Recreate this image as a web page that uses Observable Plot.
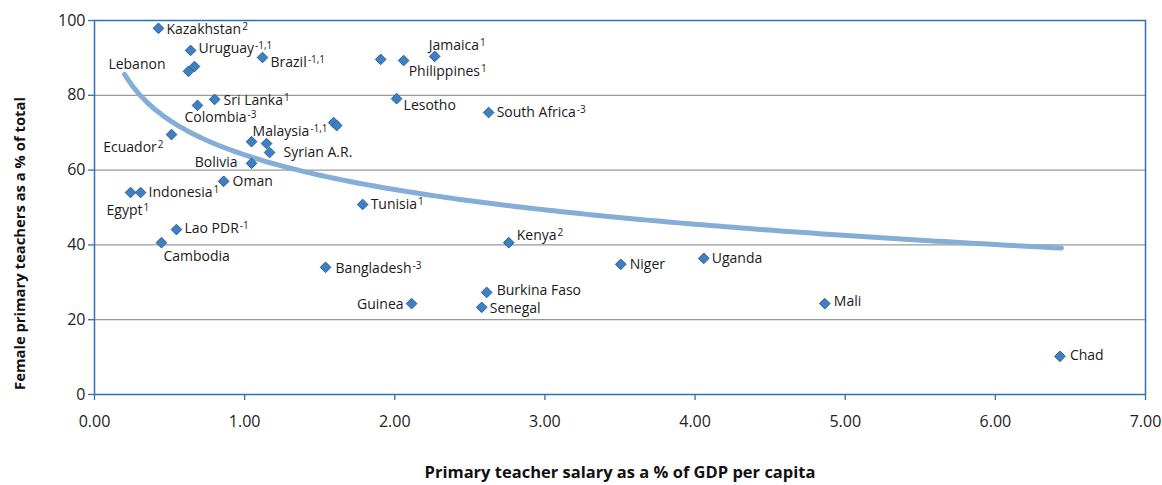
<!DOCTYPE html>
<html><head><meta charset="utf-8">
<script src="https://cdn.jsdelivr.net/npm/d3@7"></script>
<script src="https://cdn.jsdelivr.net/npm/@observablehq/plot@0.6"></script>
<style>body{margin:0;background:#fff}</style>
</head><body><div id="chart"></div>
<script>
// ---- data ----
const countries = ["Kazakhstan","Uruguay","Lebanon","","Brazil","Jamaica","","Philippines","Sri Lanka","Colombia",
  "Lesotho","South Africa","","","Malaysia","","Syrian A.R.","Bolivia","Ecuador","Oman",
  "Egypt","Indonesia","Lao PDR","Cambodia","Tunisia","Kenya","Bangladesh","Niger","Uganda","Burkina Faso",
  "Guinea","Senegal","Mali","Chad"];
const superscripts = ["2","-1,1","","","-1,1","1","","1","1","-3",
  "","-3","","","-1,1","","","","2","",
  "1","1","-1","","1","2","-3","","","",
  "","","",""];
const salary = [0.426,0.640,0.626,0.666,1.119,2.266,1.906,2.059,0.800,0.686,
  2.012,2.625,1.593,1.613,1.046,1.146,1.166,1.046,0.513,0.860,
  0.240,0.307,0.546,0.446,1.786,2.759,1.539,3.505,4.058,2.612,
  2.112,2.579,4.864,6.430];
const femaleShare = [97.9,92.0,86.4,87.7,90.1,90.4,89.6,89.3,78.9,77.3,
  79.1,75.4,72.7,71.9,67.6,67.1,64.7,61.8,69.5,57.0,
  54.0,54.0,44.1,40.6,50.8,40.6,34.0,34.8,36.4,27.3,
  24.3,23.3,24.3,10.2];
const xTicks = [0,1,2,3,4,5,6,7];
const yTicks = [0,20,40,60,80,100];
const gridLines = [20,40,60,80];
const trendExtent = [0.20, 6.44];   // span of the trendline as drawn in the source
const xTitle = "Primary teacher salary as a % of GDP per capita";
const yTitle = "Female primary teachers as a % of total";

// ---- label layout (offsets in px, anchor) ----
const labelLayout = {
  "Kazakhstan":[8,1,"start"], "Uruguay":[8,-2,"start"], "Lebanon":[-23,-7,"end"],
  "Brazil":[8,5,"start"], "Jamaica":[-6,-11,"start"], "Philippines":[5,11,"start"],
  "Sri Lanka":[9,1,"start"], "Colombia":[-13,12,"start"], "Lesotho":[7,7,"start"],
  "South Africa":[8,0,"start"], "Malaysia":[1,-10,"start"], "Syrian A.R.":[14,0,"start"],
  "Bolivia":[-14,-1,"end"], "Ecuador":[-8,13,"end"], "Oman":[9,0,"start"],
  "Egypt":[-24,18,"start"], "Indonesia":[8,0,"start"], "Lao PDR":[8,-1,"start"],
  "Cambodia":[2,14,"start"], "Tunisia":[8,0,"start"], "Kenya":[8,-7,"start"],
  "Bangladesh":[10,1,"start"], "Niger":[9,0,"start"], "Uganda":[8,0,"start"],
  "Burkina Faso":[10,-2,"start"], "Guinea":[-8,1,"end"], "Senegal":[8,1,"start"],
  "Mali":[9,-2,"start"], "Chad":[10,-1,"start"]
};

const data = countries.map((c,i)=>({country:c, sup:superscripts[i], x:salary[i], y:femaleShare[i]}));

// logarithmic least-squares trendline fitted to the data
const lx = data.map(d=>Math.log(d.x));
const mx = d3.mean(lx), my = d3.mean(data, d=>d.y);
const b = d3.sum(data, (d,i)=>(lx[i]-mx)*(d.y-my)) / d3.sum(lx, v=>(v-mx)**2);
const a = my - b*mx;
const [t0, t1] = trendExtent;
const trend = d3.range(121).map(i=>{const x = t0 + (t1-t0)*i/120; return {x, y:a+b*Math.log(x)};});

const FONT = "'Open Sans', 'Noto Sans', sans-serif";
const axisBlue = "#2e72b6";

const labelMarks = data.filter(d=>d.country).map(d=>{
  const [dx,dy,anchor] = labelLayout[d.country];
  return Plot.text([d], {x:"x", y:"y", text:"country", dx, dy, textAnchor:anchor,
    fontSize:14, fill:"#1a1a1a"});
});

const chart = Plot.plot({
  width:1162, height:485,
  marginLeft:94, marginRight:17, marginTop:20, marginBottom:91,
  style:{fontFamily:FONT, fontSize:"16px", color:"#222", background:"#fff"},
  x:{domain:[0,7], ticks:xTicks, tickFormat:d=>d.toFixed(2), tickSize:6, tickPadding:15, label:null},
  y:{domain:[0,100], ticks:yTicks, tickSize:6, tickPadding:3, label:null},
  marks:[
    Plot.ruleY(gridLines, {stroke:"#999", strokeWidth:1.3}),
    Plot.line(trend, {x:"x", y:"y", stroke:"#84aed6", strokeWidth:5}),
    Plot.dot(data, {x:"x", y:"y", symbol:"diamond2", r:4.8, fill:"#3f80c2", stroke:"#2a5d96", strokeWidth:1}),
    ...labelMarks,
    Plot.frame({stroke:axisBlue, strokeWidth:1.5}),
    Plot.text([xTitle], {text:d=>d, frameAnchor:"bottom", textAnchor:"middle", lineAnchor:"middle", dy:78, fontWeight:"bold", fontSize:16.5, fill:"#111"}),
    Plot.text([yTitle], {text:d=>d, frameAnchor:"left", textAnchor:"middle", lineAnchor:"middle", rotate:-90, dx:-74, dy:36, fontWeight:"bold", fontSize:14.8, fill:"#111"})
  ]
});
document.getElementById("chart").appendChild(chart);

// colour axis ticks blue
chart.querySelectorAll('g[aria-label^="x-axis"], g[aria-label^="y-axis"]').forEach(g=>{
  g.querySelectorAll("line, path").forEach(el=>{el.setAttribute("stroke", axisBlue); el.style.stroke = axisBlue; el.setAttribute("stroke-width","1.3");});
  g.querySelectorAll("text").forEach(el=>{el.setAttribute("fill","#222");});
});

// superscripts
const supMap = new Map(data.filter(d=>d.country && d.sup).map(d=>[d.country, d.sup]));
chart.querySelectorAll("text").forEach(t=>{
  const s = supMap.get(t.textContent);
  if (s && t.children.length === 0) {
    const ts = document.createElementNS("http://www.w3.org/2000/svg","tspan");
    ts.setAttribute("font-size","10");
    ts.setAttribute("dy","-4");
    ts.setAttribute("dx","1");
    ts.textContent = s;
    t.appendChild(ts);
  }
});
</script>
</body></html>
